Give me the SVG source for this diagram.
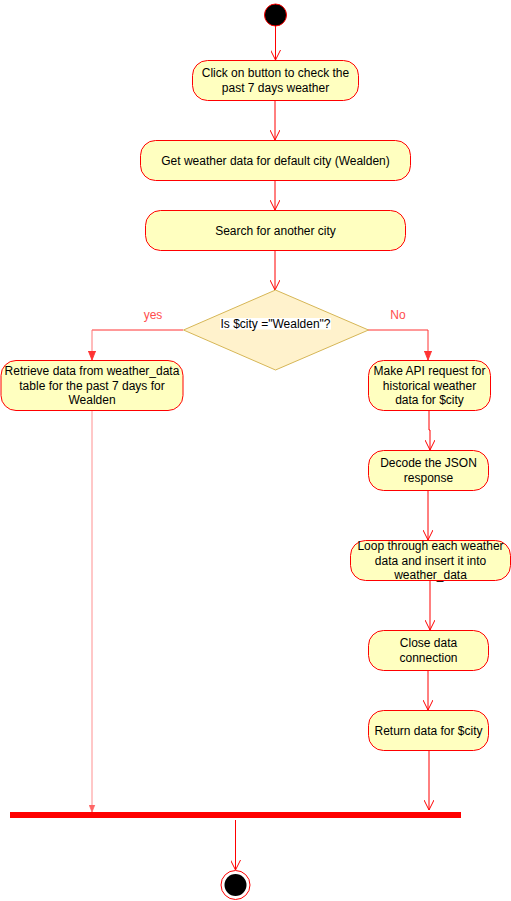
<svg xmlns="http://www.w3.org/2000/svg" width="511" height="901" viewBox="0 0 511 901">
<style>
.node{fill:#ffffc0;stroke:#ff0000;stroke-width:1}
.t{font-family:"Liberation Sans",Arial,sans-serif;font-size:12px;fill:#000;text-anchor:middle}
.lbl{font-family:"Liberation Sans",Arial,sans-serif;font-size:12px;fill:#ff4d4d;text-anchor:middle}
.e{fill:none;stroke:#ff0000;stroke-width:1}
</style>
<defs>
<marker id="open" viewBox="0 0 10 10" refX="10" refY="5" markerWidth="10" markerHeight="10" markerUnits="userSpaceOnUse" orient="auto">
<path d="M0,0 L10,5 L0,10" fill="none" stroke="#ff0000" stroke-width="1"/>
</marker>
<marker id="block" viewBox="0 0 10 10" refX="10" refY="5" markerWidth="9" markerHeight="9" markerUnits="userSpaceOnUse" orient="auto">
<path d="M0,1 L10,5 L0,9 Z" fill="#ff3333" stroke="#ff3333"/>
</marker>
<marker id="blockl" viewBox="0 0 10 10" refX="10" refY="5" markerWidth="7" markerHeight="7" markerUnits="userSpaceOnUse" orient="auto">
<path d="M0,1 L10,5 L0,9 Z" fill="#ff6666" stroke="#ff6666"/>
</marker>
</defs>
<rect width="511" height="901" fill="#ffffff"/>
<g id="connectors">
<path class="e" d="M275.5,26 V60" marker-end="url(#open)"/>
<path class="e" d="M275,100 V140" marker-end="url(#open)"/>
<path class="e" d="M275,180 V210" marker-end="url(#open)"/>
<path class="e" d="M275,250 V290" marker-end="url(#open)"/>
<path class="e" d="M183,330 H92" stroke="#ff3333" style="stroke:#ff3333"/>
<path class="e" d="M92,330 V360" style="stroke:#ff7777" marker-end="url(#block)"/>
<path class="e" d="M368,330 H428 V360" style="stroke:#ff3333" marker-end="url(#block)"/>
<path class="e" d="M92,410 V812" style="stroke:#ff9090" marker-end="url(#blockl)"/>
<path class="e" d="M429,410 V430 H430 V450" marker-end="url(#open)"/>
<path class="e" d="M428,490 V540" marker-end="url(#open)"/>
<path class="e" d="M430,580 V630" marker-end="url(#open)"/>
<path class="e" d="M428,670 V710" marker-end="url(#open)"/>
<path class="e" d="M429,750 V810" marker-end="url(#open)"/>
<path class="e" d="M235.5,820 V870" marker-end="url(#open)"/>
<text class="lbl" x="153" y="319">yes</text>
<text class="lbl" x="398" y="319">No</text>
</g>
<g id="start">
<circle cx="275.5" cy="15" r="11" fill="#000000" stroke="#ff0000" stroke-width="1"/>
</g>
<g id="n1">
<rect class="node" x="192.5" y="60.5" width="166" height="40" rx="15"/>
<text class="t" x="275.5" y="77">Click on button to check the</text>
<text class="t" x="275.5" y="91.5">past 7 days weather</text>
</g>
<g id="n2">
<rect class="node" x="140.5" y="140.5" width="270" height="40" rx="15"/>
<text class="t" x="275.5" y="164.5">Get weather data for default city (Wealden)</text>
</g>
<g id="n3">
<rect class="node" x="145.5" y="210.5" width="260" height="40" rx="15"/>
<text class="t" x="275.5" y="234.5">Search for another city</text>
</g>
<g id="decision">
<path d="M183.5,330 L275.5,290 L368.5,330 L275.5,370 Z" fill="#fff2cc" stroke="#d6b656" stroke-width="1"/>
<rect x="220" y="318" width="111" height="11.5" fill="#ffffff"/>
<text class="t" x="275.5" y="327.5">Is $city ="Wealden"?</text>
</g>
<g id="retrieve">
<rect class="node" x="1" y="360.5" width="182" height="50" rx="15"/>
<text class="t" x="92" y="375">Retrieve data from weather_data</text>
<text class="t" x="92" y="389.5">table for the past 7 days for</text>
<text class="t" x="92" y="404">Wealden</text>
</g>
<g id="api">
<rect class="node" x="368.5" y="360.5" width="122" height="50" rx="15"/>
<text class="t" x="429.5" y="375">Make API request for</text>
<text class="t" x="429.5" y="389.5">historical weather</text>
<text class="t" x="429.5" y="404">data for $city</text>
</g>
<g id="decode">
<rect class="node" x="368.5" y="450.5" width="120" height="40" rx="15"/>
<text class="t" x="428.5" y="467">Decode the JSON</text>
<text class="t" x="428.5" y="481.5">response</text>
</g>
<g id="loop">
<rect class="node" x="350.5" y="540.5" width="160" height="40" rx="15"/>
<text class="t" x="430.5" y="550">Loop through each weather</text>
<text class="t" x="430.5" y="564.5">data and insert it into</text>
<text class="t" x="430.5" y="579">weather_data</text>
</g>
<g id="close">
<rect class="node" x="368.5" y="630.5" width="120" height="40" rx="15"/>
<text class="t" x="428.5" y="647">Close data</text>
<text class="t" x="428.5" y="661.5">connection</text>
</g>
<g id="return">
<rect class="node" x="368.5" y="710.5" width="120" height="40" rx="15"/>
<text class="t" x="428.5" y="734.5">Return data for $city</text>
</g>
<g id="join">
<rect x="10" y="812" width="451" height="6" fill="#ff0000"/>
</g>
<g id="end">
<circle cx="235.5" cy="885" r="14.5" fill="#ffffff" stroke="#ff0000" stroke-width="1"/>
<circle cx="235.5" cy="885" r="11" fill="#000000"/>
</g>
</svg>
